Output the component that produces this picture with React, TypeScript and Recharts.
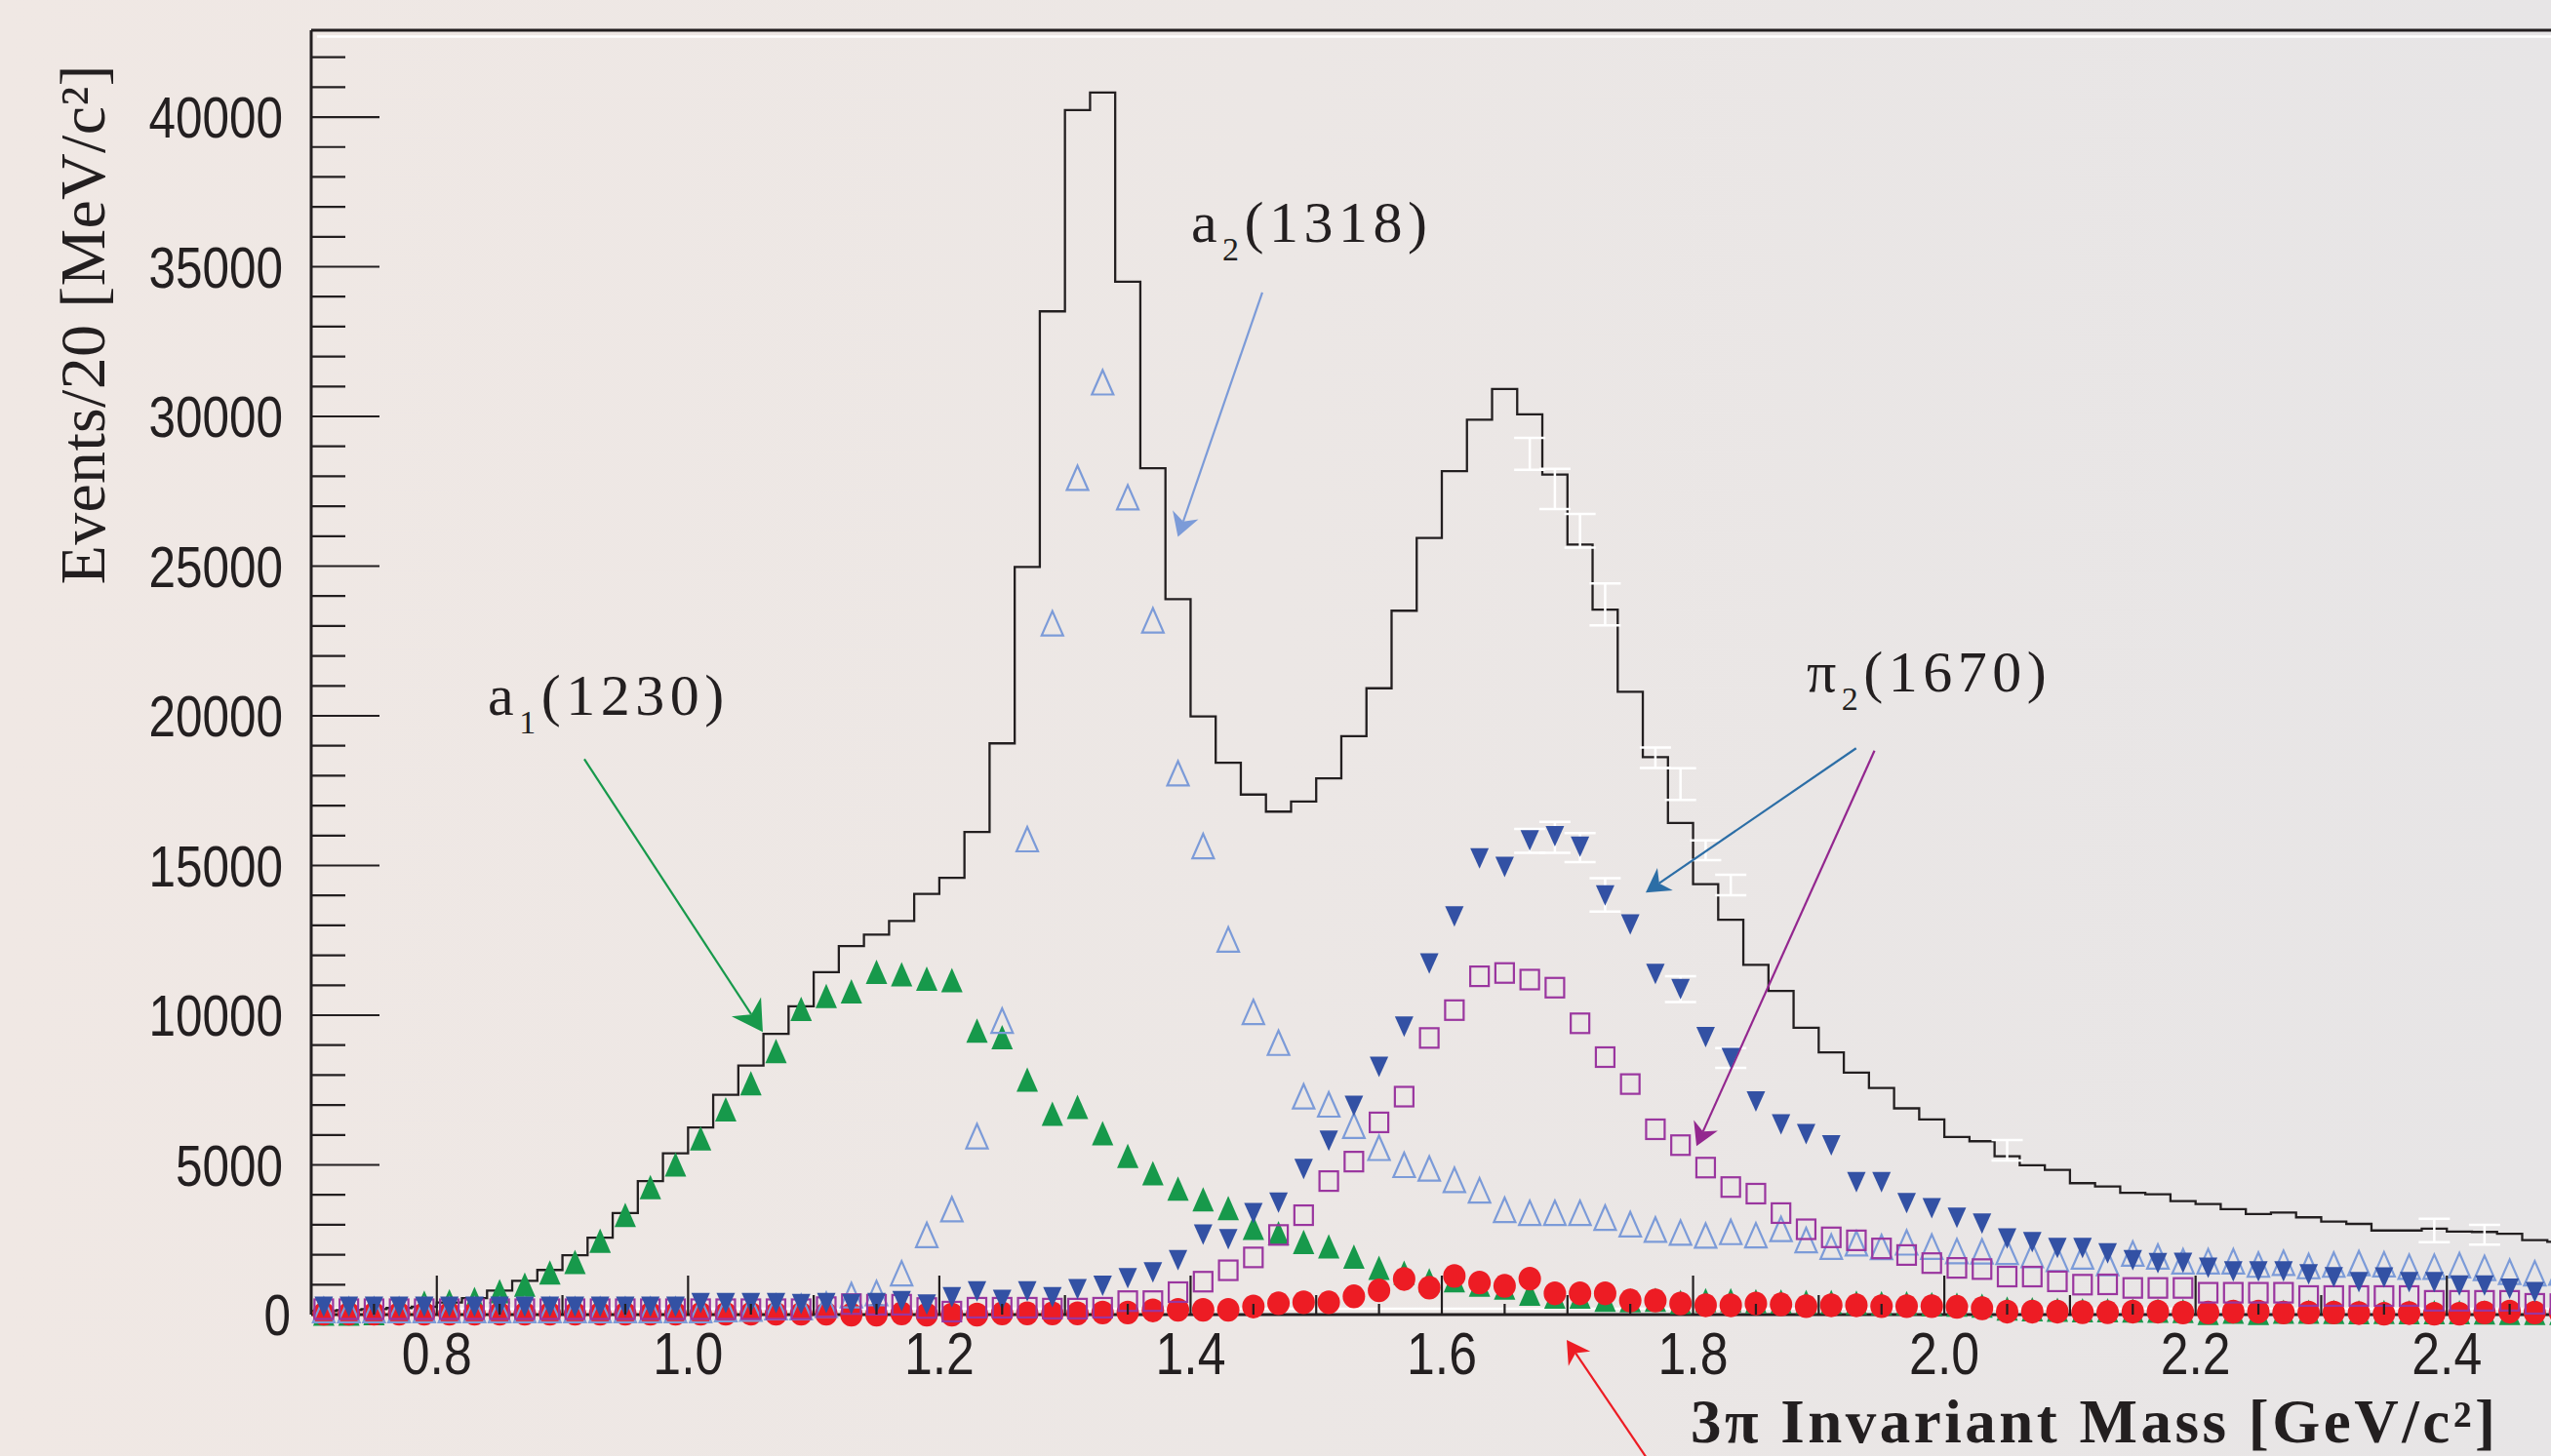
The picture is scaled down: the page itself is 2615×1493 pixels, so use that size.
import React from 'react';
import { ComposedChart, Line, Scatter, XAxis, YAxis, ReferenceLine, ReferenceDot, ErrorBar } from 'recharts';

const INK = '#231f20';
const SANS = "'Liberation Sans', 'DejaVu Sans', sans-serif";
const SERIF = "'Liberation Serif', 'DejaVu Serif', 'Times New Roman', serif";

const X_MIN = 0.7;
const X_MAX = 2.5;
const Y_MAX = 42900;
const BIN = 0.02;

// total events per 20 MeV bin (bins 0.70-0.72 ... 2.48-2.50)
const HIST = [
  120, 150, 180, 220, 260, 400, 550, 800, 1130, 1490,
  1980, 2570, 3390, 4460, 5390, 6250, 7340, 8320, 9380, 10300,
  11440, 12310, 12690, 13150, 14050, 14590, 16120, 19080, 24970, 33510,
  40230, 40820, 34500, 28270, 23900, 19980, 18430, 17370, 16800, 17140,
  17910, 19320, 20920, 23510, 25940, 28170, 29890, 30920, 30070, 28060,
  25720, 23550, 20800, 18620, 16420, 14380, 13190, 11680, 10810, 9580,
  8760, 8080, 7570, 6890, 6520, 5930, 5790, 5290, 4990, 4830,
  4390, 4280, 4070, 4020, 3790, 3690, 3520, 3360, 3410, 3250,
  3110, 3030, 2810, 2810, 2870, 2770, 2760, 2700, 2490, 2430,
];

// wave intensities at bin centres 0.71 ... 2.49
const A1_WAVE = [
  30, 30, 50, 130, 400, 450, 520, 780, 1000, 1410,
  1760, 2470, 3330, 4260, 5020, 5890, 6860, 7730, 8800, 10210,
  10640, 10800, 11450, 11370, 11220, 11170, 9490, 9270, 7850, 6710,
  6940, 6060, 5300, 4720, 4210, 3850, 3560, 2900, 2720, 2430,
  2280, 1940, 1560, 1400, 1150, 1150, 1000, 900, 700, 600,
  600, 500, 480, 500, 420, 480, 480, 450, 440, 420,
  420, 400, 380, 380, 350, 330, 300, 200, 180, 160,
  150, 150, 140, 130, 120, 60, 100, 60, 100, 100,
  90, 80, 90, 80, 80, 80, 70, 60, 60, 60,
];

const A2_WAVE = [
  150, 150, 150, 150, 150, 150, 150, 150, 150, 150,
  150, 150, 150, 150, 150, 150, 180, 200, 250, 250,
  330, 650, 720, 1380, 2660, 3520, 5960, 9820, 15880, 23090,
  27950, 31140, 27300, 23190, 18080, 15650, 12530, 10110, 9080, 7290,
  7020, 6310, 5570, 5000, 4880, 4500, 4150, 3500, 3400, 3400,
  3400, 3240, 3020, 2840, 2740, 2640, 2760, 2650, 2860, 2490,
  2270, 2380, 2260, 2410, 2270, 2120, 2110, 2100, 1990, 1860,
  1940, 1720, 2040, 1940, 1780, 1780, 1780, 1670, 1730, 1620,
  1670, 1720, 1680, 1600, 1600, 1650, 1560, 1430, 1380, 1400,
];

const PI2_FILLED = [
  260, 260, 260, 260, 260, 260, 260, 260, 260, 260,
  260, 260, 260, 260, 260, 380, 380, 380, 380, 350,
  380, 350, 380, 450, 330, 580, 770, 490, 770, 580,
  850, 960, 1210, 1410, 1820, 2670, 2520, 3390, 3740, 4860,
  5810, 6970, 8270, 9620, 11730, 13300, 15240, 14950, 15840, 15980,
  15630, 14000, 13030, 11380, 10870, 9270, 8570, 7120, 6350, 6030,
  5650, 4420, 4420, 3720, 3550, 3230, 3040, 2540, 2420, 2220,
  2220, 2040, 1820, 1720, 1730, 1560, 1440, 1440, 1440, 1340,
  1250, 1080, 1240, 1080, 1080, 970, 970, 860, 750, 700,
];

const PI2_OPEN = [
  180, 180, 180, 180, 180, 180, 180, 180, 180, 180,
  180, 180, 180, 180, 180, 180, 180, 180, 180, 180,
  250, 350, 330, 330, 220, 100, 230, 230, 230, 200,
  200, 230, 450, 450, 750, 1100, 1480, 1910, 2660, 3320,
  4460, 5110, 6420, 7280, 9240, 10170, 11300, 11410, 11190, 10920,
  9730, 8600, 7700, 6190, 5660, 4910, 4260, 4040, 3390, 2850,
  2580, 2480, 2210, 1990, 1720, 1560, 1520, 1270, 1270, 1110,
  1000, 1010, 890, 890, 890, 730, 730, 730, 730, 620,
  620, 620, 620, 620, 460, 460, 460, 460, 360, 350,
];

const RED_WAVE = [
  30, 30, 30, 30, 30, 30, 30, 30, 30, 30,
  30, 30, 30, 30, 30, 30, 30, 30, 30, 30,
  30, 0, 0, 40, 0, 0, 0, 40, 40, 40,
  40, 70, 70, 140, 160, 160, 160, 270, 380, 410,
  410, 610, 810, 1190, 900, 1290, 1070, 960, 1200, 710,
  710, 710, 470, 470, 370, 310, 310, 370, 340, 280,
  310, 310, 280, 280, 280, 260, 210, 100, 100, 100,
  80, 80, 100, 100, 70, 70, 100, 100, 70, 70,
  70, 50, 30, 50, 30, 30, 70, 100, 70, 70,
];

// white error bars
const HIST_ERR_M = [1.67, 1.69, 1.71, 1.73, 1.77, 1.79, 1.81, 1.83, 2.05, 2.39, 2.43];
const HIST_ERR_V = [28750, 27580, 26180, 23720, 18600, 17720, 15510, 14350, 5490, 2810, 2670];
const HIST_ERR_E = [530, 670, 560, 700, 345, 530, 330, 340, 340, 390, 330];
const PI2_ERR_M = [1.67, 1.69, 1.71, 1.73, 1.79, 1.83];
const PI2_ERR_V = [15820, 15940, 15600, 14020, 10870, 8570];
const PI2_ERR_E = [400, 515, 485, 555, 434, 330];

const X_TICK_LABELS = [0.8, 1.0, 1.2, 1.4, 1.6, 1.8, 2.0, 2.2, 2.4];
const Y_TICK_LABELS = [0, 5000, 10000, 15000, 20000, 25000, 30000, 35000, 40000];

// annotations (data coordinates)
const LABELS = [
  { m: 0.8406, v: 20017, main: 'a', sub: '1', tail: '(1230)' },
  { m: 1.4004, v: 35836, main: 'a', sub: '2', tail: '(1318)' },
  { m: 1.8904, v: 20831, main: '\u03c0', sub: '2', tail: '(1670)' },
];
const ARROWS = [
  { from: [0.9174, 18553], to: [1.0595, 9439], color: '#17994b', head: 36 },
  { from: [1.4571, 34144], to: [1.3899, 25974], color: '#7c9bd8', head: 28 },
  { from: [1.9298, 18917], to: [1.7623, 14100], color: '#2c6ea6', head: 28 },
  { from: [1.9444, 18836], to: [1.8027, 5631], color: '#93278f', head: 27 },
  { from: [1.7713, -5300], to: [1.6994, -846], color: '#ed1c24', head: 27 },
];

const G_COLOR = '#17994b';
const LB_COLOR = '#7c9bd8';
const DB_COLOR = '#3351a4';
const P_COLOR = '#9a369f';
const R_COLOR = '#ed1c24';

const edge = (k: number) => +(X_MIN + BIN * k).toFixed(2);
const center = (k: number) => +(X_MIN + BIN * (k + 0.5)).toFixed(3);
const histPts = [
  ...HIST.map((v, k) => ({ m: edge(k), v })),
  { m: edge(HIST.length), v: HIST[HIST.length - 1] },
];
const toPts = (arr: number[]) => arr.map((v, k) => ({ m: center(k), v }));
const errPts = (ms: number[], vs: number[], es: number[]) => ms.map((m, i) => ({ m, v: vs[i], e: es[i] }));

const X_TICKS: number[] = [];
for (let i = 0; i <= 36; i++) X_TICKS.push(+(X_MIN + 0.05 * i).toFixed(2));
const Y_TICKS: number[] = [];
for (let i = 0; i <= 42; i++) Y_TICKS.push(i * 1000);

const near = (a: number, b: number) => Math.abs(a - b) < 1e-6;

const XTick = (p: any) => {
  const { x, y, payload } = p;
  const v = payload.value;
  const major = near(v * 5, Math.round(v * 5));
  const mid = !major && near(v * 10, Math.round(v * 10));
  const len = major ? 40 : mid ? 20 : 11;
  const labeled = X_TICK_LABELS.some((l) => near(l, v));
  return (
    <g>
      {v > X_MIN + 1e-6 && <line x1={x} x2={x} y1={y} y2={y - len} stroke={INK} strokeWidth={2.2} />}
      {labeled && (
        <text
          x={x}
          y={y + 61}
          textAnchor="middle"
          fontFamily={SANS}
          fontSize={61}
          fill={INK}
          textLength={72}
          lengthAdjust="spacingAndGlyphs"
        >
          {v.toFixed(1)}
        </text>
      )}
    </g>
  );
};

const YTick = (p: any) => {
  const { x, y, payload } = p;
  const v = payload.value;
  const major = Y_TICK_LABELS.includes(v);
  const len = major ? 70 : 35;
  const s = String(v);
  return (
    <g>
      {v > 0 && <line x1={x} x2={x + len} y1={y} y2={y} stroke={INK} strokeWidth={2.2} />}
      {major && (
        <text
          x={x - (v === 0 ? 21 : 29)}
          y={y + 21}
          textAnchor="end"
          fontFamily={SANS}
          fontSize={60}
          fill={INK}
          textLength={s.length * 27.5}
          lengthAdjust="spacingAndGlyphs"
        >
          {s}
        </text>
      )}
    </g>
  );
};

const YTitle = (p: any) => {
  const vb = p.viewBox || { x: 0, y: 0 };
  const x = vb.x + 107;
  const y = vb.y + 302;
  return (
    <text
      x={x}
      y={y}
      transform={`rotate(-90, ${x}, ${y})`}
      textAnchor="middle"
      fontFamily={SERIF}
      fontSize={66}
      fill={INK}
      textLength={533}
    >
      {'Events/20 [MeV/c\u00b2]'}
    </text>
  );
};

const XTitle = (p: any) => {
  const vb = p.viewBox || { x: 0, y: 0 };
  return (
    <text
      x={vb.x + 2239}
      y={vb.y + 131}
      textAnchor="end"
      fontFamily={SERIF}
      fontWeight="bold"
      fontSize={63}
      fill={INK}
      textLength={825}
    >
      {'3\u03c0 Invariant Mass [GeV/c\u00b2]'}
    </text>
  );
};

const triUp = (p: any) => {
  const { cx, cy } = p;
  const w = 22, h = 25;
  return <polygon points={`${cx},${cy - h / 2} ${cx - w / 2},${cy + h / 2} ${cx + w / 2},${cy + h / 2}`} fill={G_COLOR} />;
};
const triUpOpen = (p: any) => {
  const { cx, cy } = p;
  const w = 22, h = 25;
  return (
    <polygon
      points={`${cx},${cy - h / 2} ${cx - w / 2},${cy + h / 2} ${cx + w / 2},${cy + h / 2}`}
      fill="none"
      stroke={LB_COLOR}
      strokeWidth={2.2}
    />
  );
};
const triDown = (p: any) => {
  const { cx, cy } = p;
  const w = 19, h = 21;
  return <polygon points={`${cx - w / 2},${cy - h / 2} ${cx + w / 2},${cy - h / 2} ${cx},${cy + h / 2}`} fill={DB_COLOR} />;
};
const squareOpen = (p: any) => {
  const { cx, cy } = p;
  const s = 19;
  return <rect x={cx - s / 2} y={cy - s / 2 - 0.5} width={s} height={s + 1} fill="none" stroke={P_COLOR} strokeWidth={2.2} />;
};
const circle = (p: any) => {
  const { cx, cy } = p;
  return <ellipse cx={cx} cy={cy} rx={11.5} ry={12.2} fill={R_COLOR} />;
};
const noShape = () => <g />;

const arrowShape = (color: string, head: number) => (p: any) => {
  const { x1, y1, x2, y2 } = p;
  const dx = x2 - x1, dy = y2 - y1;
  const L = Math.hypot(dx, dy) || 1;
  const ux = dx / L, uy = dy / L;
  const nx = -uy, ny = ux;
  const back = head * 0.86, side = head * 0.5, notch = head * 0.6;
  const pts = [
    [x2, y2],
    [x2 - ux * back + nx * side, y2 - uy * back + ny * side],
    [x2 - ux * notch, y2 - uy * notch],
    [x2 - ux * back - nx * side, y2 - uy * back - ny * side],
  ];
  return (
    <g>
      <line x1={x1} y1={y1} x2={x2 - ux * notch} y2={y2 - uy * notch} stroke={color} strokeWidth={2.2} />
      <polygon points={pts.map((q) => q.join(',')).join(' ')} fill={color} />
    </g>
  );
};

const labelShape = (main: string, sub: string, tail: string) => (p: any) => (
  <text x={p.cx} y={p.cy} fontFamily={SERIF} fontSize={60} fill={INK} letterSpacing={5.5}>
    {main}
    <tspan dy={19} fontSize={34}>{sub}</tspan>
    <tspan dy={-19}>{tail}</tspan>
  </text>
);

export default function App() {
  return (
    <div
      style={{
        position: 'absolute',
        left: 0,
        top: 0,
        width: 2615,
        height: 1493,
        overflow: 'hidden',
        background: 'linear-gradient(90deg, #f0e8e4 0%, #ece7e5 50%, #e7e5e6 100%)',
      }}
    >
      <ComposedChart width={2637} height={1493} margin={{ top: 31, right: 0, bottom: 0, left: 0 }}>
        <XAxis
          dataKey="m"
          type="number"
          domain={[X_MIN, X_MAX]}
          ticks={X_TICKS}
          interval={0}
          height={145}
          tickSize={0}
          tickMargin={0}
          tickLine={false}
          tick={(p: any) => <XTick {...p} />}
          axisLine={{ stroke: INK, strokeWidth: 3 }}
          label={<XTitle />}
        />
        <YAxis
          dataKey="v"
          type="number"
          domain={[0, Y_MAX]}
          ticks={Y_TICKS}
          interval={0}
          width={319}
          tickSize={0}
          tickMargin={0}
          tickLine={false}
          tick={(p: any) => <YTick {...p} />}
          axisLine={{ stroke: INK, strokeWidth: 3 }}
          label={<YTitle />}
        />
        <ReferenceLine y={Y_MAX} stroke={INK} strokeWidth={3} />
        <ReferenceLine
          y={Y_MAX}
          shape={(p: any) => <line x1={p.x1 + 6} y1={p.y1 + 6.5} x2={p.x2} y2={p.y2 + 6.5} stroke="#ffffff" strokeWidth={2.5} />}
        />
        <ReferenceLine
          y={0}
          shape={(p: any) => <line x1={p.x1 + 4} y1={p.y1 - 6} x2={p.x2} y2={p.y2 - 6} stroke="#ffffff" strokeWidth={2.5} />}
        />
        <Line
          data={histPts}
          dataKey="v"
          type="stepAfter"
          stroke={INK}
          strokeWidth={2.3}
          dot={false}
          activeDot={false}
          isAnimationActive={false}
        />
        <Scatter data={errPts(HIST_ERR_M, HIST_ERR_V, HIST_ERR_E)} shape={noShape} isAnimationActive={false}>
          <ErrorBar dataKey="e" direction="y" width={16} stroke="#ffffff" strokeWidth={2.5} />
        </Scatter>
        <Scatter data={toPts(A1_WAVE)} shape={triUp} isAnimationActive={false} />
        <Scatter data={toPts(RED_WAVE)} shape={circle} isAnimationActive={false} />
        <Scatter data={toPts(A2_WAVE)} shape={triUpOpen} isAnimationActive={false} />
        <Scatter data={toPts(PI2_OPEN)} shape={squareOpen} isAnimationActive={false} />
        <Scatter data={errPts(PI2_ERR_M, PI2_ERR_V, PI2_ERR_E)} shape={noShape} isAnimationActive={false}>
          <ErrorBar dataKey="e" direction="y" width={16} stroke="#ffffff" strokeWidth={2.5} />
        </Scatter>
        <Scatter data={toPts(PI2_FILLED)} shape={triDown} isAnimationActive={false} />
        {ARROWS.map((a, i) => (
          <ReferenceLine
            key={'arrow' + i}
            segment={[
              { x: a.from[0], y: a.from[1] },
              { x: a.to[0], y: a.to[1] },
            ]}
            ifOverflow="visible"
            shape={arrowShape(a.color, a.head)}
          />
        ))}
        {LABELS.map((l, i) => (
          <ReferenceDot
            key={'label' + i}
            x={l.m}
            y={l.v}
            r={0}
            ifOverflow="visible"
            shape={labelShape(l.main, l.sub, l.tail)}
          />
        ))}
      </ComposedChart>
    </div>
  );
}
